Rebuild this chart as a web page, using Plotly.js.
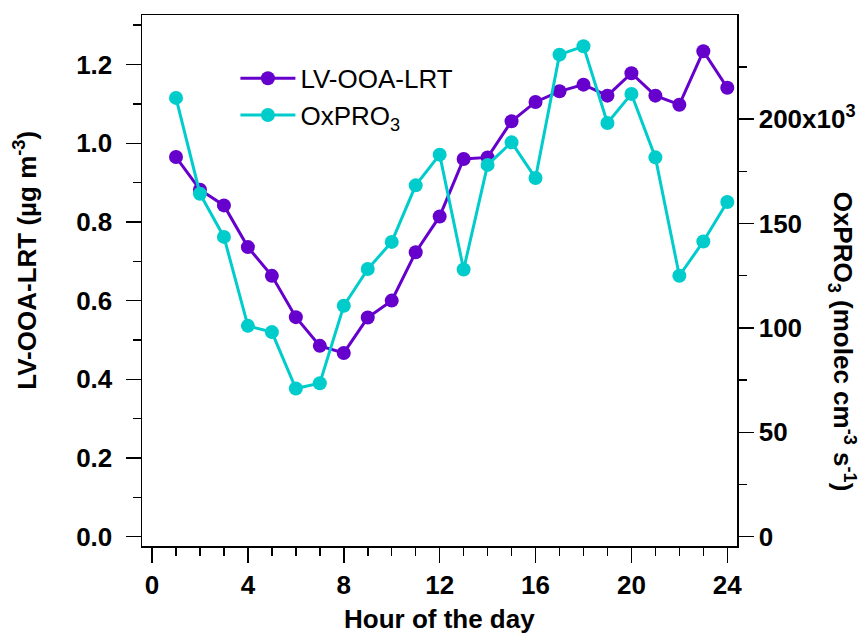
<!DOCTYPE html>
<html>
<head>
<meta charset="utf-8">
<script src="https://cdn.plot.ly/plotly-3.0.1.min.js"></script>
<style>html,body{margin:0;padding:0;background:#fff;}#chart{width:868px;height:637px;}</style>
</head>
<body>
<div id="chart"></div>
<script>
// Hour of the day
var hours = [1,2,3,4,5,6,7,8,9,10,11,12,13,14,15,16,17,18,19,20,21,22,23,24];
// LV-OOA-LRT (ug m-3)
var lvOoaLrt = [0.965,0.882,0.842,0.736,0.663,0.558,0.485,0.467,0.557,0.600,0.723,0.814,
                0.960,0.964,1.056,1.105,1.132,1.149,1.121,1.178,1.121,1.098,1.234,1.141];
// OxPRO3 (molec cm-3 s-1)
var oxPro3 = [210200,164300,143600,101000,98000,71000,73500,110600,128200,141200,168300,183000,
              128000,178100,188900,171800,230900,234900,198200,212100,181700,125000,141400,160300];
var rightTickVals = [0,50000,100000,150000,200000];
var rightTickText = ["0","50","100","150","200x10<sup>3</sup>"];
var rightMinorVals = [25000,75000,125000,175000,225000];

var purple = "#6600CC", cyan = "#00CCCC";
var FONT = "Arial, 'Liberation Sans', sans-serif";

var traces = [
  {x: hours, y: lvOoaLrt, name: "LV-OOA-LRT", type: "scatter", mode: "lines+markers",
   line: {color: purple, width: 3}, marker: {color: purple, size: 14}, yaxis: "y"},
  {x: hours, y: oxPro3, name: "OxPRO<sub>3</sub>", type: "scatter", mode: "lines+markers",
   line: {color: cyan, width: 3}, marker: {color: cyan, size: 14}, yaxis: "y2"}
];

var tickFont = {family: FONT, size: 26, color: "#000", weight: "bold"};
var layout = {
  width: 868, height: 637,
  margin: {l: 142, r: 131, t: 15, b: 91, pad: 0},
  paper_bgcolor: "#fff", plot_bgcolor: "#fff",
  showlegend: true,
  legend: {x: 0.157, y: 0.925, xanchor: "left", yanchor: "top", bgcolor: "rgba(0,0,0,0)",
           font: {family: FONT, size: 26, color: "#000"}, itemwidth: 55},
  xaxis: {range: [-0.418, 24.405], tickmode: "linear", tick0: 0, dtick: 4,
          ticks: "outside", ticklen: 15, tickwidth: 1.5, tickcolor: "#000",
          showline: true, linecolor: "#000", linewidth: 1.5, mirror: true,
          showgrid: false, zeroline: false, tickfont: tickFont, ticklabelstandoff: 0,
          minor: {ticks: "outside", dtick: 1, ticklen: 8, tickwidth: 1.5, tickcolor: "#000", showgrid: false}},
  yaxis: {range: [-0.0237, 1.326], tickmode: "linear", tick0: 0, dtick: 0.2, tickformat: ".1f",
          ticks: "outside", ticklen: 15, tickwidth: 1.5, tickcolor: "#000",
          showline: true, linecolor: "#000", linewidth: 1.5,
          showgrid: false, zeroline: false, tickfont: tickFont, ticklabelstandoff: 8,
          minor: {ticks: "outside", dtick: 0.1, ticklen: 8, tickwidth: 1.5, tickcolor: "#000", showgrid: false}},
  yaxis2: {range: [-4460, 249900], overlaying: "y", side: "right", tickmode: "array",
          tickvals: rightTickVals, ticktext: rightTickText,
          ticks: "outside", ticklen: 15, tickwidth: 1.5, tickcolor: "#000",
          showline: true, linecolor: "#000", linewidth: 1.5,
          showgrid: false, zeroline: false, tickfont: tickFont, ticklabelstandoff: 0,
          minor: {ticks: "outside", tickmode: "array", tickvals: rightMinorVals, ticklen: 8, tickwidth: 1.5, tickcolor: "#000", showgrid: false}},
  annotations: [
    {text: "Hour of the day", xref: "paper", yref: "paper", x: 0.5, y: -0.138,
     xanchor: "center", yanchor: "middle", showarrow: false,
     font: {family: FONT, size: 26, color: "#000", weight: "bold"}},
    {text: "LV-OOA-LRT (µg m<sup>-3</sup>)", xref: "paper", yref: "paper", x: -0.195, y: 0.539,
     xanchor: "center", yanchor: "middle", showarrow: false, textangle: -90,
     font: {family: FONT, size: 26, color: "#000", weight: "bold"}},
    {text: "OxPRO<sub>3</sub> (molec cm<sup>-3</sup> s<sup>-1</sup>)", xref: "paper", yref: "paper", x: 1.178, y: 0.385,
     xanchor: "center", yanchor: "middle", showarrow: false, textangle: 90,
     font: {family: FONT, size: 26, color: "#000", weight: "bold"}}
  ]
};

Plotly.newPlot("chart", traces, layout, {staticPlot: true, displayModeBar: false});
</script>
</body>
</html>
